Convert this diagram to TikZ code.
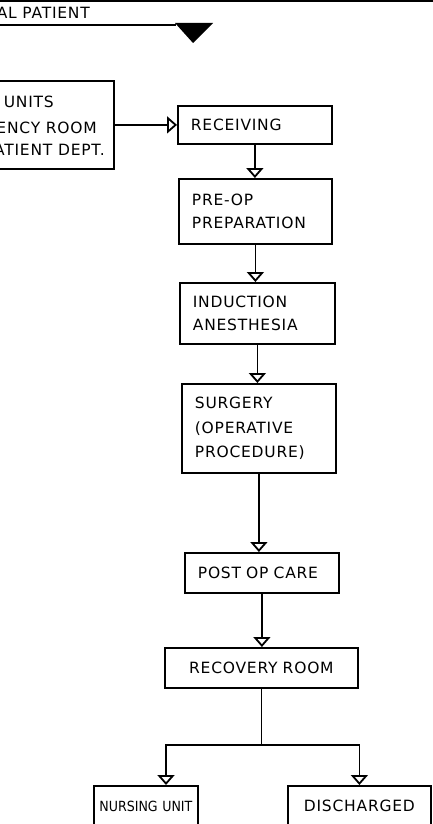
\documentclass[tikz,border=0pt]{standalone}
\usepackage{fontspec}
\setmainfont{DejaVu Sans}[LetterSpace=5]
\newfontfamily\narrowfont{DejaVu Sans Condensed}
\usetikzlibrary{positioning, arrows.meta}

\begin{document}
\begin{tikzpicture}[
            x=1pt, y=-1pt,
            stepbox/.style={draw, line width=1.8pt, anchor=north west, align=left,
                    inner xsep=13pt, inner ysep=0pt, font=\fontsize{15.5}{23}\selectfont},
            endbox/.style={stepbox, align=center, inner xsep=2pt},
            lbl/.style={anchor=base east, inner sep=0pt, font=\fontsize{15.5}{23}\selectfont},
            flow/.style={line width=1.8pt, -{Triangle[open, width=17pt, length=10pt, line width=1.8pt]}}
        ]
        \useasboundingbox (0,0) rectangle (433,824);
        \clip (0,0) rectangle (433,824);

        % Header rule, title and marker
        \draw[line width=2.5pt] (-5,1) -- (440,1);
        \node[lbl] (title) at (90,19) {SURGICAL PATIENT};
        \draw[line width=1.6pt] (-5,25) -- (176,25);
        \fill (175,23) -- (213,23) -- (193,43) -- cycle;

        % Sources feeding the surgical suite
        \node[draw, line width=1.8pt, anchor=north east, minimum width=200pt,
              minimum height=88pt] (feeder) at (115,80) {};
        \node[lbl] (feedA) at (54,108) {NURSING UNITS};
        \node[lbl] (feedB) at (97,133) {EMERGENCY ROOM};
        \node[lbl] (feedC) at (105,155) {OUTPATIENT DEPT.};

        % Main sequence
        \node[stepbox, text width=128pt, minimum height=38pt] (recv) at (177,105) {RECEIVING};
        \node[stepbox, text width=127pt, minimum height=65pt] (preop) at (178,178) {PRE-OP\\PREPARATION};
        \node[stepbox, text width=129pt, minimum height=61pt] (induct) at (179,282) {INDUCTION\\ANESTHESIA};
        \node[stepbox, text width=128pt, minimum height=89pt,
              font=\fontsize{15.5}{24.5}\selectfont] (surgery) at (181,383) {SURGERY\\(OPERATIVE\\PROCEDURE)};
        \node[stepbox, text width=128pt, minimum height=40pt] (postop) at (184,552) {POST OP CARE};
        \node[endbox, text width=189pt, minimum height=40pt] (recovery) at (164,647) {RECOVERY ROOM};

        % Where the patient goes afterwards
        \node[endbox, text width=100pt, minimum height=40pt,
              font=\narrowfont\fontsize{14}{20}\selectfont] (nursing) at (93,785) {NURSING UNIT};
        \node[endbox, text width=139pt, minimum height=40pt] (discharged) at (287,785) {DISCHARGED};

        % Connectors
        \draw[flow] (feeder.east |- recv.west) -- (recv.west);
        \draw[flow] (recv.south) -- (recv.south |- preop.north);
        \draw[flow] (preop.south) -- (preop.south |- induct.north);
        \draw[flow] (induct.south) -- (induct.south |- surgery.north);
        \draw[flow] (surgery.south) -- (surgery.south |- postop.north);
        \draw[flow] (postop.south) -- (postop.south |- recovery.north);
        \coordinate (split) at (recovery.south |- 0,745);
        \coordinate (nuIn) at (166,785);
        \draw[line width=1.8pt] (recovery.south) -- (split);
        \draw[flow] (split) -| (nuIn);
        \draw[flow] (split) -| (discharged.north);
    \end{tikzpicture}
\end{document}
